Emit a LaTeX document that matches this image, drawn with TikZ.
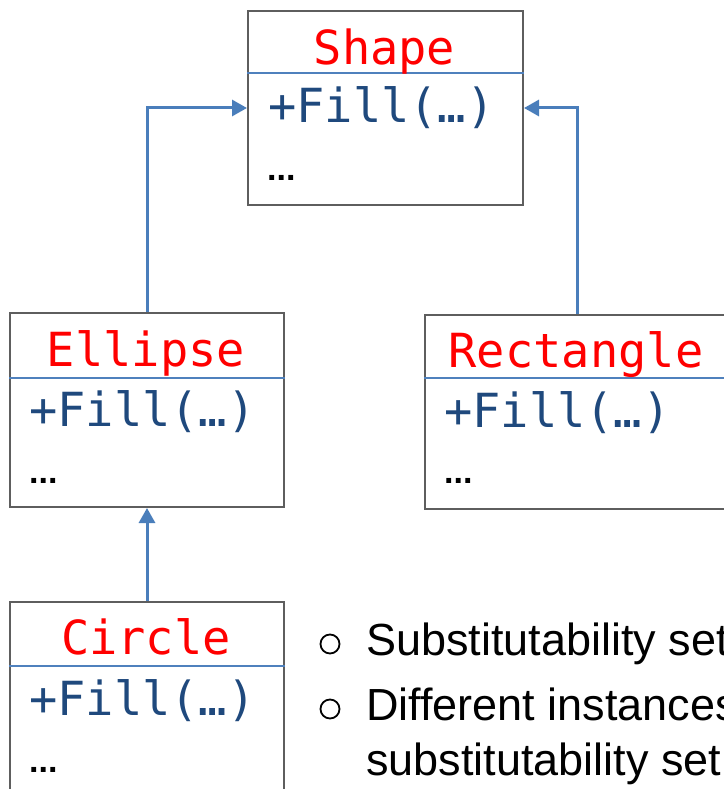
\documentclass[tikz,border=0pt]{standalone}
\usepackage{fontspec}
\setmainfont{Liberation Sans}
\newfontfamily\codefont{DejaVu Sans Mono}
\usetikzlibrary{arrows.meta}

\definecolor{boxgray}{HTML}{5E5E5E}
\definecolor{rulerblue}{HTML}{4F81BD}
\definecolor{linkblue}{HTML}{4A7EBB}
\definecolor{methodblue}{HTML}{1F497D}
\definecolor{titlered}{HTML}{FF0000}

\tikzset{
  classbox/.style={draw=boxgray, line width=2pt, fill=white, inner sep=0pt,
    minimum height=194pt, anchor=north west},
  divider/.style={draw=rulerblue, line width=1.8pt},
  classname/.style={font=\codefont\fontsize{47}{47}\selectfont, text=titlered,
    inner sep=0pt, anchor=base},
  method/.style={font=\codefont\fontsize{47}{47}\selectfont, text=methodblue,
    inner sep=0pt, anchor=base west},
  more/.style={font=\bfseries\fontsize{34}{34}\selectfont, inner sep=0pt,
    anchor=base west},
  link/.style={draw=linkblue, line width=3pt,
    -{Triangle[length=15pt,width=16pt]}},
  bulletdot/.style={circle, draw=black, line width=1.8pt, minimum size=19pt,
    inner sep=0pt},
  bodytext/.style={font=\fontsize{45}{55}\selectfont, inner sep=0pt,
    anchor=base west}
}

\begin{document}
\begin{tikzpicture}[x=1pt, y=-1pt]
  \useasboundingbox (0,0) rectangle (723,789);

  % base class
  \node[classbox, minimum width=275pt] (shape) at (247,10) {};
  \draw[divider] ([yshift=-63pt]shape.north west) -- ([yshift=-63pt]shape.north east);
  \node[classname] (shapeT) at (384.5,65) {Shape};
  \node[method] (shapeM) at (268,123) {+Fill(…)};
  \node[more] (shapeD) at (267,180) {...};

  % Ellipse
  \node[classbox, minimum width=274pt] (ellipse) at (9,312) {};
  \draw[divider] ([yshift=-66pt]ellipse.north west) -- ([yshift=-66pt]ellipse.north east);
  \node[classname] (ellipseT) at (146,366) {Ellipse};
  \node[method] (ellipseM) at (29,426) {+Fill(…)};
  \node[more] (ellipseD) at (29,483) {...};

  % Rectangle
  \node[classbox, minimum width=304pt] (rect) at (424,314) {};
  \draw[divider] ([yshift=-64pt]rect.north west) -- ([yshift=-64pt]rect.north east);
  \node[classname] (rectT) at (576,367) {Rectangle};
  \node[method] (rectM) at (444,427) {+Fill(…)};
  \node[more] (rectD) at (444,483) {...};

  % Circle
  \node[classbox, minimum width=274pt] (circ) at (9,601) {};
  \draw[divider] ([yshift=-65pt]circ.north west) -- ([yshift=-65pt]circ.north east);
  \node[classname] (circT) at (146,654) {Circle};
  \node[method] (circM) at (29,715) {+Fill(…)};
  \node[more] (circD) at (29,772) {...};

  % inheritance links
  \draw[link] (ellipse.north) |- (shape.west);
  \draw[link] (rect.north) |- (shape.east);
  \draw[link] (circ.north) -- (ellipse.south);

  % bullet list
  \node[bulletdot] (b1) at (330,644) {};
  \node[bodytext] (t1) at (366,655) {Substitutability set};
  \node[bulletdot] (b2) at (330,709) {};
  \node[bodytext] (t2) at (366,720) {Different instances};
  \node[bodytext] (t3) at (366,775) {substitutability set};
\end{tikzpicture}
\end{document}
